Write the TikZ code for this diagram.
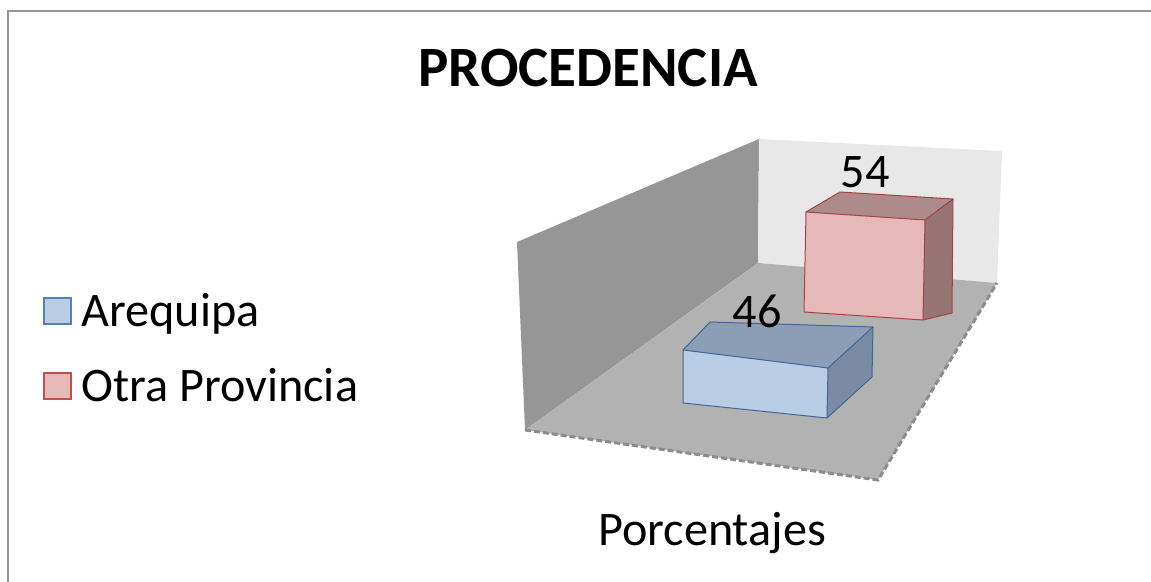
\documentclass[tikz,border=0pt]{standalone}
\usepackage{fontspec}
\setmainfont{Carlito}
\definecolor{wallL}{RGB}{150,150,150}
\definecolor{wallB}{RGB}{232,232,232}
\definecolor{floorc}{RGB}{178,178,178}
\definecolor{flooredge}{RGB}{140,140,140}
\definecolor{bluefront}{RGB}{185,205,229}
\definecolor{bluetop}{RGB}{140,158,181}
\definecolor{blueside}{RGB}{122,139,163}
\definecolor{blueedge}{RGB}{79,129,189}
\definecolor{redfront}{RGB}{230,185,184}
\definecolor{redtop}{RGB}{173,139,138}
\definecolor{redside}{RGB}{152,117,117}
\definecolor{rededge}{RGB}{192,80,77}
\definecolor{framec}{RGB}{150,150,150}
\begin{document}
\begin{tikzpicture}[x=0.5pt,y=-0.5pt,
  regtext/.style={inner sep=0pt,font=\fontsize{24.1}{28}\selectfont},
  titletext/.style={inner sep=0pt,font=\fontsize{28.5}{34}\selectfont\bfseries},
  bluebox/.style={draw=blueedge!80!black,line width=0.5pt,line join=round},
  redbox/.style={draw=rededge!85!black,line width=0.5pt,line join=round},
  legsq/.style={line width=1pt}]
\useasboundingbox (0,0) rectangle (1151,582);
% frame
\draw[framec,line width=1.2pt] (8,582) -- (8,11) -- (1151,11);
% title
\node[titletext,anchor=base] (title) at (588,87) {PROCEDENCIA};
% walls and floor
\coordinate (lwTL) at (517,242);
\coordinate (cornerT) at (759,139);
\coordinate (cornerB) at (758,263);
\coordinate (flFL) at (525,430);
\coordinate (bwTR) at (1002,151);
\coordinate (flBR) at (997,283);
\coordinate (flFR) at (878,480);
\fill[wallL] (lwTL) -- (cornerT) -- (cornerB) -- (flFL) -- cycle;
\fill[wallB] (cornerT) -- (bwTR) -- (flBR) -- (cornerB) -- cycle;
\fill[floorc] (cornerB) -- (flBR) -- (flFR) -- (flFL) -- cycle;
\draw[flooredge,line width=1.5pt,dash pattern=on 3pt off 1.5pt] (flFL) -- (flFR) -- (flBR);
% red bar (Otra Provincia)
\coordinate (rFTL) at (806,212);
\coordinate (rFTR) at (925,220);
\coordinate (rFBR) at (923,320);
\coordinate (rFBL) at (804,312);
\coordinate (rBTL) at (840,192);
\coordinate (rBTR) at (953,199);
\coordinate (rBBR) at (952,313);
\fill[redfront] (rFTL) -- (rFTR) -- (rFBR) -- (rFBL) -- cycle;
\fill[redtop] (rFTL) -- (rBTL) -- (rBTR) -- (rFTR) -- cycle;
\fill[redside] (rFTR) -- (rBTR) -- (rBBR) -- (rFBR) -- cycle;
\draw[redbox] (rFBL) -- (rFTL) -- (rBTL) -- (rBTR) -- (rBBR) -- (rFBR) -- cycle;
\draw[redbox] (rFTL) -- (rFTR) -- (rFBR) (rFTR) -- (rBTR);
% blue bar (Arequipa)
\coordinate (bFTL) at (683,350);
\coordinate (bFTR) at (828,368);
\coordinate (bFBR) at (827,418);
\coordinate (bFBL) at (683,403);
\coordinate (bBTL) at (710,322);
\coordinate (bBTR) at (873,327);
\coordinate (bBBR) at (872,377);
\fill[bluefront] (bFTL) -- (bFTR) -- (bFBR) -- (bFBL) -- cycle;
\fill[bluetop] (bFTL) -- (bBTL) -- (bBTR) -- (bFTR) -- cycle;
\fill[blueside] (bFTR) -- (bBTR) -- (bBBR) -- (bFBR) -- cycle;
\draw[bluebox] (bFBL) -- (bFTL) -- (bBTL) -- (bBTR) -- (bBBR) -- (bFBR) -- cycle;
\draw[bluebox] (bFTL) -- (bFTR) -- (bFBR) (bFTR) -- (bBTR);
% value labels
\node[regtext,anchor=base] (v54) at (865,188) {54};
\node[regtext,anchor=base] (v46) at (757,328) {46};
% axis label
\node[regtext,anchor=base] (axis) at (712,545) {Porcentajes};
% legend
\filldraw[legsq,fill=bluefront,draw=blueedge] (44,298) rectangle (71,324);
\node[regtext,anchor=base west] (legA) at (81,327) {Arequipa};
\filldraw[legsq,fill=redfront,draw=rededge] (44,373) rectangle (71,399);
\node[regtext,anchor=base west] (legO) at (81,401) {Otra Provincia};
\end{tikzpicture}
\end{document}
